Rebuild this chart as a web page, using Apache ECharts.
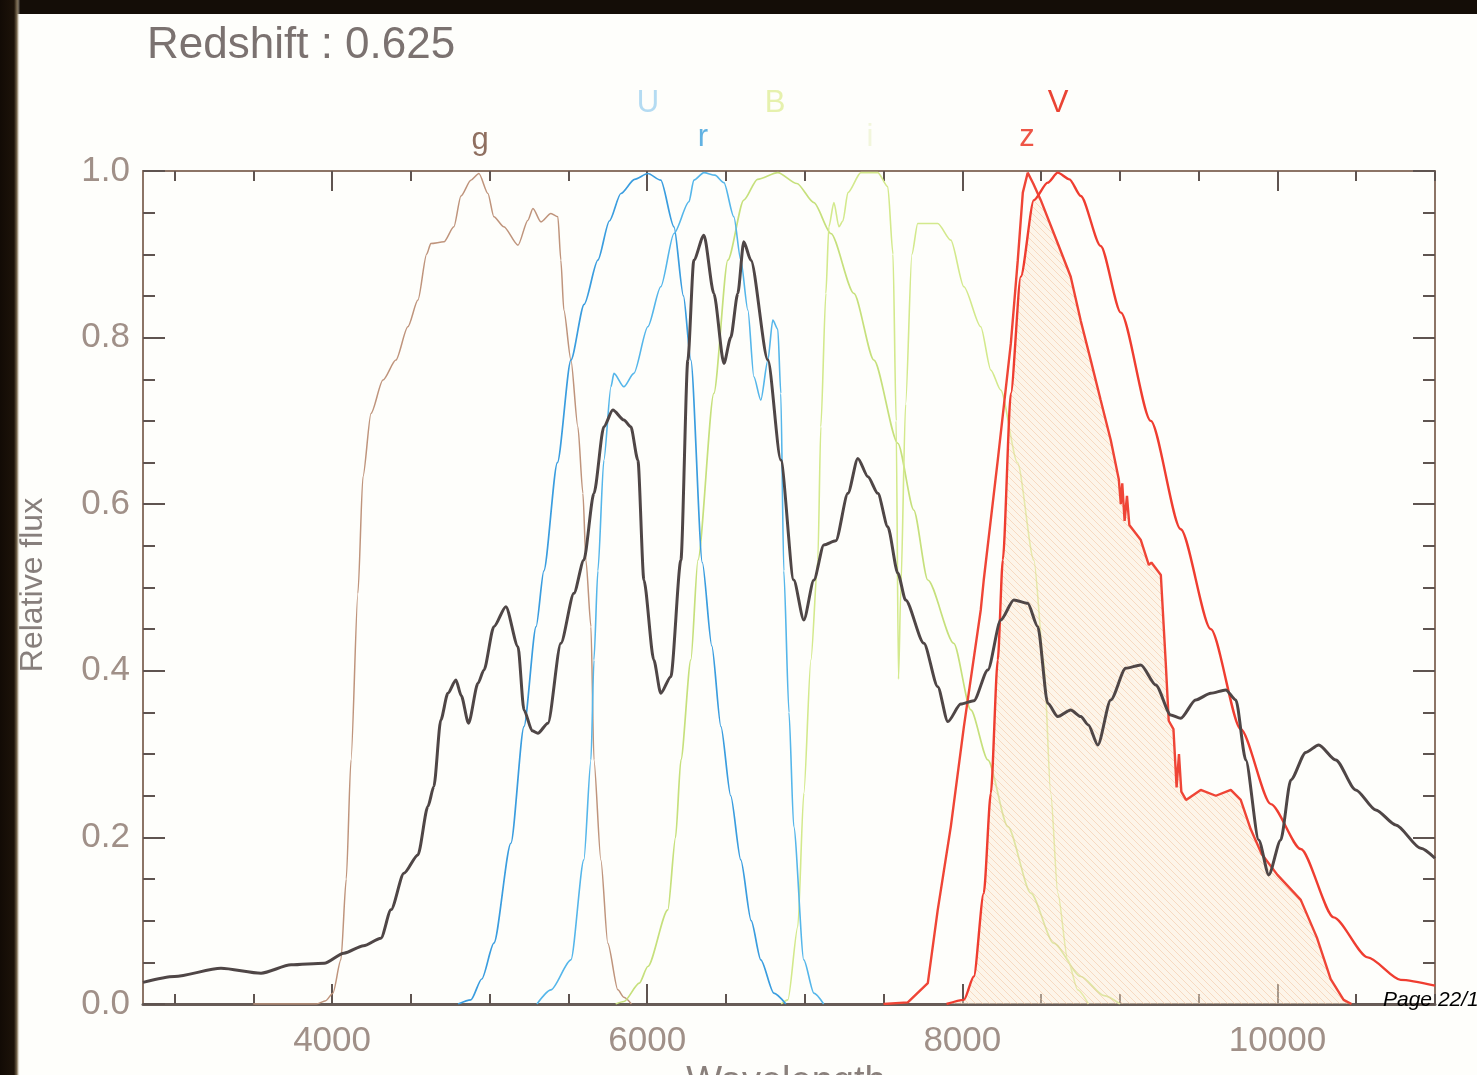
<!DOCTYPE html>
<html>
<head>
<meta charset="utf-8">
<title>Redshift 0.625</title>
<script src="https://cdn.jsdelivr.net/npm/echarts@6/dist/echarts.min.js"></script>
<style>
  html, body { margin: 0; padding: 0; background: #fefefb; }
  #main { width: 1477px; height: 1075px; }
</style>
</head>
<body>
<div id="main"></div>
<script>
// ticks
const majorX = [4000, 6000, 8000, 10000];
const minorX = [3000, 3500, 4500, 5000, 5500, 6500, 7000, 7500, 8500, 9000, 9500, 10500, 11000];

// galaxy spectrum (wavelength, relative flux)
const spectrum = [
  [2800, 0.026], [3000, 0.033], [3295, 0.043], [3549, 0.037], [3740, 0.047], [3950, 0.049],
  [4075, 0.061], [4200, 0.07], [4310, 0.079], [4374, 0.113], [4456, 0.157], [4545, 0.179],
  [4608, 0.237], [4646, 0.261], [4690, 0.341], [4735, 0.373], [4786, 0.389], [4820, 0.37],
  [4866, 0.337], [4926, 0.385], [4964, 0.401], [5027, 0.453], [5103, 0.477], [5180, 0.429],
  [5218, 0.353], [5270, 0.328], [5306, 0.325], [5370, 0.337], [5452, 0.433], [5535, 0.493],
  [5598, 0.533], [5662, 0.613], [5725, 0.693], [5782, 0.713], [5852, 0.701], [5896, 0.693],
  [5941, 0.653], [5979, 0.509], [6042, 0.413], [6086, 0.373], [6150, 0.393], [6214, 0.533],
  [6258, 0.773], [6296, 0.893], [6360, 0.923], [6423, 0.853], [6487, 0.769], [6530, 0.8],
  [6575, 0.853], [6613, 0.915], [6658, 0.893], [6766, 0.773], [6848, 0.653], [6930, 0.509],
  [6994, 0.461], [7058, 0.509], [7121, 0.551], [7197, 0.556], [7274, 0.613], [7337, 0.655],
  [7401, 0.633], [7464, 0.613], [7527, 0.573], [7591, 0.517], [7640, 0.485], [7756, 0.433],
  [7844, 0.381], [7908, 0.339], [7990, 0.36], [8073, 0.364], [8162, 0.401], [8244, 0.461],
  [8327, 0.485], [8415, 0.481], [8479, 0.453], [8542, 0.361], [8606, 0.345], [8688, 0.353],
  [8752, 0.345], [8800, 0.335], [8860, 0.311], [8942, 0.365], [9037, 0.403], [9133, 0.407],
  [9228, 0.383], [9323, 0.347], [9386, 0.343], [9481, 0.365], [9577, 0.373], [9672, 0.377],
  [9736, 0.365], [9799, 0.293], [9881, 0.197], [9945, 0.155], [10021, 0.197], [10085, 0.269],
  [10180, 0.302], [10262, 0.311], [10370, 0.293], [10497, 0.257], [10624, 0.233], [10751, 0.215],
  [10910, 0.187], [11000, 0.175]
];

// observed filters
const gBand = [
  [3500, 0], [3900, 0], [3960, 0.004], [4005, 0.013], [4056, 0.053], [4090, 0.15], [4120, 0.293],
  [4164, 0.493], [4196, 0.633], [4247, 0.709], [4323, 0.749], [4405, 0.773], [4481, 0.813],
  [4545, 0.845], [4600, 0.9], [4627, 0.913], [4710, 0.915], [4773, 0.933], [4818, 0.97],
  [4881, 0.989], [4932, 0.997], [4989, 0.973], [5027, 0.945], [5090, 0.933], [5180, 0.911],
  [5243, 0.941], [5275, 0.955], [5325, 0.939], [5389, 0.949], [5433, 0.945], [5452, 0.893],
  [5471, 0.833], [5516, 0.773], [5560, 0.693], [5592, 0.613], [5611, 0.533], [5643, 0.453],
  [5662, 0.293], [5706, 0.173], [5750, 0.073], [5814, 0.017], [5852, 0.008], [5900, 0]
];
const rBand = [
  [5300, 0], [5389, 0.017], [5516, 0.053], [5598, 0.173], [5643, 0.293], [5662, 0.413],
  [5687, 0.52], [5725, 0.653], [5770, 0.741], [5789, 0.757], [5852, 0.741], [5915, 0.757],
  [6004, 0.813], [6086, 0.861], [6170, 0.925], [6265, 0.963], [6296, 0.989], [6360, 0.998],
  [6430, 0.995], [6487, 0.986], [6550, 0.945], [6594, 0.893], [6639, 0.833], [6677, 0.753],
  [6721, 0.725], [6766, 0.773], [6797, 0.821], [6829, 0.81], [6848, 0.733], [6867, 0.52],
  [6900, 0.35], [6930, 0.213], [6994, 0.053], [7058, 0.013], [7120, 0]
];
const iBand = [
  [6850, 0], [6893, 0.005], [6956, 0.093], [6994, 0.253], [7039, 0.413], [7083, 0.533],
  [7102, 0.693], [7134, 0.853], [7153, 0.933], [7185, 0.962], [7217, 0.933], [7242, 0.94],
  [7274, 0.974], [7356, 0.998], [7464, 0.998], [7527, 0.981], [7560, 0.9], [7580, 0.7],
  [7595, 0.39], [7610, 0.5], [7640, 0.72], [7680, 0.9], [7717, 0.937], [7844, 0.937],
  [7927, 0.917], [8010, 0.861], [8117, 0.813], [8181, 0.761], [8244, 0.737], [8350, 0.65],
  [8454, 0.533], [8517, 0.413], [8561, 0.253], [8606, 0.133], [8669, 0.053], [8733, 0.017],
  [8800, 0]
];
const zBand = [
  [7500, 0], [7654, 0.002], [7781, 0.025], [7844, 0.113], [7927, 0.213], [8010, 0.333],
  [8117, 0.473], [8136, 0.509], [8225, 0.653], [8308, 0.793], [8352, 0.893], [8384, 0.974],
  [8415, 0.998], [8450, 0.985], [8498, 0.965], [8606, 0.913], [8688, 0.873], [8752, 0.82],
  [8815, 0.773], [8878, 0.725], [8942, 0.677], [8993, 0.63], [9006, 0.6], [9015, 0.625],
  [9030, 0.58], [9045, 0.61], [9060, 0.575], [9133, 0.557], [9184, 0.527], [9200, 0.53],
  [9260, 0.515], [9291, 0.41], [9310, 0.34], [9340, 0.33], [9360, 0.26], [9375, 0.3],
  [9390, 0.255], [9420, 0.245], [9513, 0.257], [9609, 0.25], [9704, 0.257], [9767, 0.245],
  [9830, 0.21], [9900, 0.18], [10000, 0.155], [10148, 0.125], [10250, 0.08], [10338, 0.03],
  [10420, 0.005], [10470, 0]
];

// rest-frame filters shifted by 1+z
const uRest = [
  [4800, 0], [4881, 0.005], [4950, 0.03], [5027, 0.073], [5135, 0.193], [5218, 0.333],
  [5295, 0.453], [5344, 0.52], [5430, 0.65], [5516, 0.773], [5600, 0.84], [5687, 0.893],
  [5760, 0.94], [5833, 0.973], [5920, 0.99], [6004, 0.997], [6086, 0.989], [6170, 0.933],
  [6230, 0.85], [6277, 0.773], [6350, 0.53], [6410, 0.43], [6468, 0.333], [6530, 0.25],
  [6594, 0.173], [6660, 0.1], [6721, 0.053], [6804, 0.013], [6880, 0]
];
const bRest = [
  [5800, 0], [5852, 0.003], [5950, 0.025], [6004, 0.045], [6131, 0.113], [6180, 0.2],
  [6214, 0.293], [6277, 0.413], [6322, 0.533], [6423, 0.733], [6512, 0.893], [6613, 0.965],
  [6700, 0.99], [6829, 0.998], [6950, 0.985], [7058, 0.962], [7166, 0.925], [7312, 0.853],
  [7439, 0.773], [7591, 0.673], [7692, 0.593], [7781, 0.509], [7946, 0.433], [8054, 0.353],
  [8162, 0.293], [8289, 0.213], [8435, 0.133], [8580, 0.073], [8752, 0.033], [8900, 0.01],
  [9000, 0]
];
const vRest = [
  [7900, 0], [8010, 0.005], [8073, 0.033], [8136, 0.133], [8181, 0.253], [8225, 0.413],
  [8257, 0.533], [8308, 0.733], [8371, 0.873], [8454, 0.965], [8542, 0.986], [8606, 0.998],
  [8680, 0.99], [8752, 0.97], [8878, 0.91], [9006, 0.83], [9196, 0.7], [9386, 0.57],
  [9577, 0.45], [9767, 0.33], [9958, 0.24], [10148, 0.186], [10357, 0.104], [10573, 0.056],
  [10782, 0.029], [11000, 0.022]
];

// shaded z / V overlap outline
const overlapZV = [
  [7900, 0], [8010, 0.005], [8073, 0.033], [8136, 0.133], [8181, 0.253], [8225, 0.413],
  [8257, 0.533], [8308, 0.733], [8371, 0.873], [8454, 0.965], [8480, 0.968], [8498, 0.965],
  [8606, 0.913], [8688, 0.873], [8752, 0.82], [8815, 0.773], [8878, 0.725], [8942, 0.677],
  [8993, 0.63], [9006, 0.6], [9015, 0.625], [9030, 0.58], [9045, 0.61], [9060, 0.575],
  [9133, 0.557], [9184, 0.527], [9200, 0.53], [9260, 0.515], [9291, 0.41], [9310, 0.34],
  [9340, 0.33], [9360, 0.26], [9375, 0.3], [9390, 0.255], [9420, 0.245], [9513, 0.257],
  [9609, 0.25], [9704, 0.257], [9767, 0.245], [9830, 0.21], [9900, 0.18], [10000, 0.155],
  [10148, 0.125], [10250, 0.08], [10338, 0.03], [10420, 0.005], [10470, 0]
];

const bandLabels = [
  { text: 'g', x: 480, y: 140, color: '#8f6f60' },
  { text: 'U', x: 648, y: 103, color: '#b4dbf2' },
  { text: 'r', x: 703, y: 137, color: '#62b2e2' },
  { text: 'B', x: 775, y: 103, color: '#e6f1ad' },
  { text: 'i', x: 870, y: 137, color: '#f2f6dc' },
  { text: 'z', x: 1027, y: 137, color: '#ee5546' },
  { text: 'V', x: 1058, y: 103, color: '#ea4434' }
];

// hatch pattern for the overlap area
function hatch() {
  const c = document.createElement('canvas');
  c.width = 7; c.height = 7;
  const ctx = c.getContext('2d');
  ctx.fillStyle = 'rgba(253,236,210,0.45)';
  ctx.fillRect(0, 0, 7, 7);
  ctx.strokeStyle = 'rgba(240,185,145,0.45)';
  ctx.lineWidth = 1;
  ctx.beginPath();
  ctx.moveTo(0, 0); ctx.lineTo(7, 7);
  ctx.moveTo(-4, 3); ctx.lineTo(4, 11);
  ctx.moveTo(3, -4); ctx.lineTo(11, 4);
  ctx.stroke();
  return c;
}

const chart = echarts.init(document.getElementById('main'));

const axisCol = '#8c7466';
const tickCol = '#5f5450';
const labelStyle = { color: '#a09088', fontFamily: 'Liberation Sans', fontSize: 35 };

function xAx(pos, ticks, len, showLine, showLabel) {
  return {
    type: 'value', min: 2800, max: 11000, position: pos,
    axisLine: { show: showLine, onZero: false, lineStyle: { color: pos === 'bottom' ? '#675c57' : axisCol, width: pos === 'bottom' ? 3 : 2 } },
    axisTick: { show: true, inside: true, length: len, customValues: ticks, lineStyle: { color: tickCol, width: 2 } },
    axisLabel: showLabel ? Object.assign({ customValues: ticks, margin: 20, formatter: v => String(v) }, labelStyle) : { show: false },
    splitLine: { show: false }
  };
}
function yAx(pos, showLabel) {
  return {
    type: 'value', min: 0, max: 1, interval: 0.2, position: pos,
    axisLine: { show: true, onZero: false, lineStyle: { color: axisCol, width: 2 } },
    axisTick: { show: true, inside: true, length: 22, lineStyle: { color: tickCol, width: 2 } },
    minorTick: { show: true, splitNumber: 4, length: 12, lineStyle: { color: tickCol, width: 2 } },
    axisLabel: showLabel ? Object.assign({ margin: 13, formatter: v => v.toFixed(1) }, labelStyle) : { show: false },
    splitLine: { show: false }
  };
}

function band(name, data, color, width, z, smooth) {
  return {
    name, type: 'line', data, showSymbol: false, z,
    smooth: smooth === undefined ? 0.25 : smooth, smoothMonotone: 'x',
    lineStyle: { color, width }, silent: true
  };
}

const graphics = [
  { type: 'rect', shape: { x: 0, y: 0, width: 1477, height: 14 }, style: { fill: '#140d07' }, z: 100 },
  {
    type: 'rect', shape: { x: 0, y: 0, width: 20, height: 1075 }, z: 100,
    style: {
      fill: new echarts.graphic.LinearGradient(0, 0, 1, 0, [
        { offset: 0, color: '#120b05' }, { offset: 0.7, color: '#1d1309' },
        { offset: 0.85, color: '#7a6a50' }, { offset: 1, color: 'rgba(250,246,232,0)' }
      ])
    }
  },
  {
    type: 'text', left: 147, top: 24, z: 50,
    style: { text: 'Redshift : 0.625', fill: '#7b7270', font: '44px "Liberation Sans"' }
  },
  {
    type: 'text', x: 33, y: 585, rotation: Math.PI / 2, z: 50,
    style: { text: 'Relative flux', fill: '#877f7c', font: '32px "Liberation Sans"', align: 'center', verticalAlign: 'middle' }
  },
  {
    type: 'text', x: 786, y: 1064, z: 50,
    style: { text: 'Wavelength', fill: '#8a807c', font: '38px "Liberation Sans"', align: 'center', verticalAlign: 'top' }
  },
  {
    type: 'text', x: 1383, y: 1000, z: 60,
    style: { text: 'Page 22/1', fill: '#000000', font: 'italic 21px "Liberation Sans"', verticalAlign: 'middle' }
  }
];
bandLabels.forEach(l => graphics.push({
  type: 'text', x: l.x, y: l.y, z: 50,
  style: { text: l.text, fill: l.color, font: '31px "Liberation Sans"', align: 'center', verticalAlign: 'middle' }
}));

chart.setOption({
  backgroundColor: '#fefefb',
  animation: false,
  grid: { left: 143, top: 171, width: 1292, height: 833 },
  xAxis: [
    xAx('bottom', majorX, 20, true, true),
    xAx('bottom', minorX, 10, false, false),
    xAx('top', majorX, 20, true, false),
    xAx('top', minorX, 10, false, false)
  ],
  yAxis: [yAx('left', true), yAx('right', false)],
  graphic: graphics,
  series: [
    band('g', gBand, '#bf947c', 1.5, 2),
    band('U', uRest, '#3a9ddf', 1.7, 3),
    band('r', rBand, '#55b6ea', 1.6, 3),
    band('B', bRest, '#c6e07c', 1.7, 2),
    band('i', iBand, '#d3e98c', 1.6, 2),
    {
      name: 'overlap', type: 'line', data: overlapZV, showSymbol: false, z: 4, silent: true,
      lineStyle: { width: 0 },
      areaStyle: { color: { image: hatch(), repeat: 'repeat' }, opacity: 1 }
    },
    band('z', zBand, '#ef4536', 2.4, 5, 0),
    band('V', vRest, '#ef3d30', 2.4, 5),
    band('spectrum', spectrum, '#4f4646', 3, 6)
  ]
});
</script>
</body>
</html>
